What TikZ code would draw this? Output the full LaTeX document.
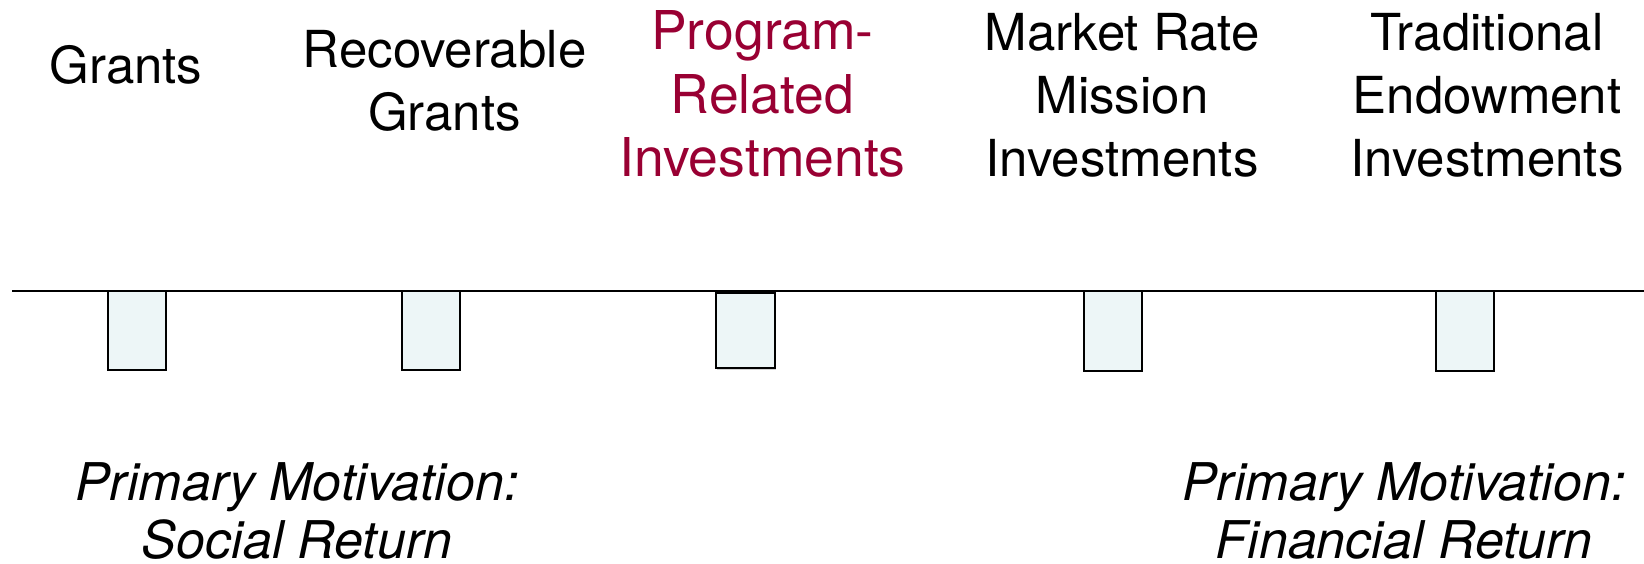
\documentclass[tikz,border=0pt]{standalone}
\usepackage{fontspec}
\setmainfont{TeX Gyre Heros}
\usepackage{tikz}
\usetikzlibrary{positioning, shadows}

\definecolor{prired}{HTML}{990033}
\definecolor{slotfill}{HTML}{EDF6F7}

\tikzset{
  label/.style={align=center, anchor=base, inner sep=0pt, font=\fontsize{51pt}{63pt}\selectfont},
  hilite/.style={label, text=prired, font=\fontsize{53.5pt}{63.5pt}\selectfont},
  motive/.style={align=center, anchor=base, inner sep=0pt, font=\fontsize{52pt}{58pt}\selectfont\itshape},
  slot/.style={draw, line width=2pt, fill=slotfill, minimum width=58pt, minimum height=79pt, inner sep=0pt,
    drop shadow={shadow xshift=1.2pt, shadow yshift=-1.2pt, opacity=0.35}}
}

\begin{document}
\begin{tikzpicture}[x=1pt, y=-1pt]
\useasboundingbox (0,0) rectangle (1644,564);

% categories along the top (placed by their last baseline)
\node[label] (grants) at (126,84) {Grants};
\node[label] (recov) at (444.6,131) {Recoverable\\Grants};
\node[hilite] (pri) at (762.5,177) {Program-\\Related\\Investments};
\node[label] (mri) at (1122,177) {Market Rate\\Mission\\Investments};
\node[label] (trad) at (1487,177) {Traditional\\Endowment\\Investments};

% the axis and its slots
\coordinate (axisL) at (12,290.7); \coordinate (axisR) at (1644,290.7);
\draw[line width=2pt] (axisL) -- (axisR);
\node[slot] (s1) at (137,330.5) {};
\node[slot] (s2) at (431,330.5) {};
\node[slot, minimum width=59pt, minimum height=75pt] (s3) at (745.3,330.8) {};
\node[slot, minimum height=80pt] (s4) at (1113,331) {};
\node[slot, minimum height=80pt] (s5) at (1465,331) {};

% motivations at both ends
\node[motive] (social) at (297,558) {Primary Motivation:\\Social Return};
\node[motive] (financial) at (1404,558) {Primary Motivation:\\Financial Return};
\end{tikzpicture}
\end{document}
